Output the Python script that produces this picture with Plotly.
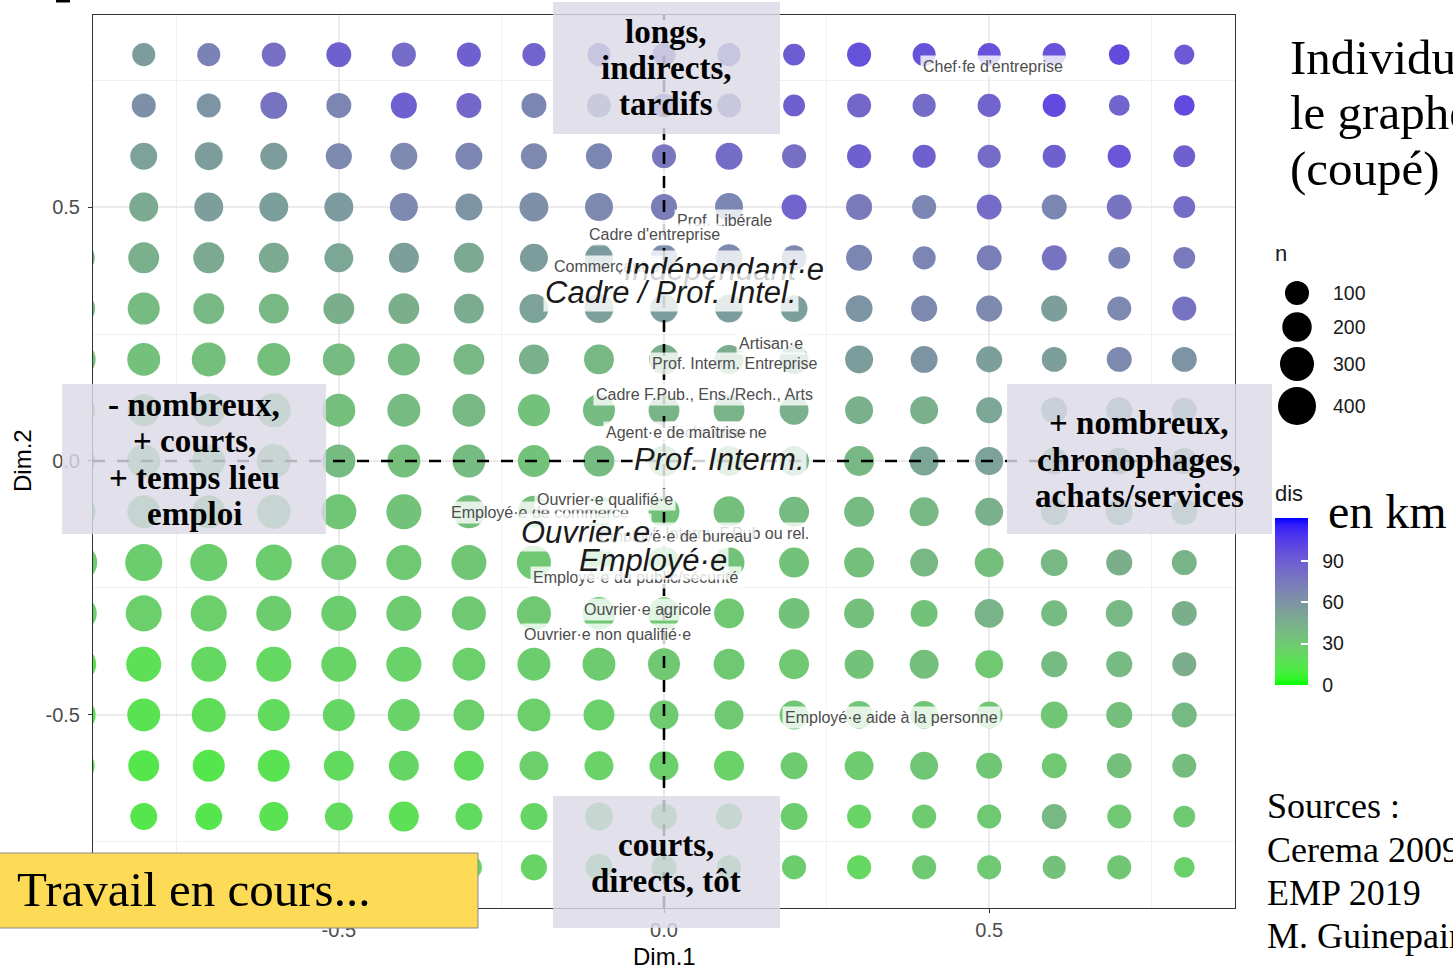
import math
import plotly.graph_objects as go

W, H = 1453, 969

# ---------------- data ----------------
x_vals = [-0.8, -0.7, -0.6, -0.5, -0.4, -0.3, -0.2, -0.1, 0.0, 0.1, 0.2, 0.3, 0.4, 0.5, 0.6, 0.7, 0.8]
y_vals = [0.8, 0.7, 0.6, 0.5, 0.4, 0.3, 0.2, 0.1, 0.0, -0.1, -0.2, -0.3, -0.4, -0.5, -0.6, -0.7, -0.8]

# dis (distance, km) per grid cell; rows follow y_vals, columns follow x_vals
dis = [
    [55, 70, 80, 88, 82, 88, 86, 82, 84, 82, 90, 96, 95, 95, 95, 98, 92],
    [62, 60, 78, 68, 88, 84, 68, 66, 76, 78, 88, 84, 82, 86, 99, 86, 99],
    [52, 55, 55, 66, 66, 68, 66, 68, 76, 82, 80, 88, 88, 82, 88, 93, 88],
    [48, 54, 54, 56, 66, 60, 62, 66, 72, 68, 86, 74, 68, 82, 68, 78, 82],
    [44, 48, 48, 50, 54, 48, 55, 56, 64, 66, 66, 68, 68, 72, 78, 70, 75],
    [38, 40, 40, 45, 45, 47, 52, 53, 55, 55, 54, 60, 66, 66, 54, 66, 78],
    [35, 36, 36, 38, 38, 40, 44, 40, 45, 46, 50, 55, 60, 54, 54, 66, 60],
    [34, 35, 36, 36, 38, 40, 35, 38, 42, 42, 44, 44, 44, 50, 50, 52, 50],
    [34, 34, 35, 38, 36, 38, 34, 38, 40, 40, 42, 40, 50, 52, 46, 48, 46],
    [33, 33, 33, 32, 34, 36, 36, 35, 34, 36, 38, 38, 40, 44, 42, 44, 42],
    [28, 28, 28, 30, 30, 32, 31, 32, 33, 34, 34, 36, 40, 36, 40, 45, 42],
    [27, 27, 28, 28, 29, 30, 31, 30, 31, 31, 34, 36, 34, 42, 38, 40, 45],
    [18, 22, 22, 24, 25, 27, 28, 29, 31, 30, 31, 34, 36, 31, 38, 38, 46],
    [16, 19, 21, 23, 25, 27, 27, 26, 29, 30, 32, 33, 32, 33, 32, 36, 39],
    [14, 14, 16, 21, 23, 21, 27, 25, 27, 25, 29, 29, 32, 32, 31, 36, 37],
    [14, 14, 16, 21, 18, 21, 23, 28, 28, 28, 28, 24, 29, 30, 40, 31, 30],
    [15, 15, 17, 20, 20, 22, 24, 28, 28, 28, 28, 22, 30, 30, 35, 32, 26],
]

# n (count) per grid cell
n = [
    [85, 85, 100, 115, 100, 100, 85, 85, 85, 85, 65, 100, 85, 85, 85, 50, 40],
    [100, 100, 150, 115, 135, 115, 115, 100, 100, 100, 65, 100, 85, 85, 85, 50, 50],
    [150, 170, 150, 135, 150, 150, 135, 135, 100, 150, 100, 100, 85, 85, 85, 85, 65],
    [190, 190, 190, 190, 170, 150, 190, 170, 135, 170, 115, 135, 100, 115, 115, 115, 65],
    [230, 230, 210, 190, 210, 210, 170, 170, 150, 150, 115, 135, 85, 115, 115, 65, 65],
    [255, 230, 210, 230, 230, 210, 190, 190, 170, 170, 150, 150, 135, 135, 135, 100, 100],
    [275, 300, 275, 255, 255, 230, 210, 210, 210, 190, 190, 170, 150, 135, 115, 115, 115],
    [255, 275, 300, 275, 275, 275, 255, 255, 230, 230, 190, 170, 170, 135, 135, 135, 115],
    [275, 275, 300, 275, 275, 275, 255, 230, 230, 210, 210, 210, 190, 170, 150, 150, 135],
    [275, 275, 300, 325, 325, 275, 255, 255, 230, 230, 210, 210, 190, 170, 150, 150, 135],
    [375, 375, 350, 325, 325, 325, 300, 275, 255, 230, 210, 210, 170, 190, 150, 135, 115],
    [350, 350, 325, 325, 325, 300, 300, 275, 255, 210, 230, 210, 150, 190, 135, 150, 115],
    [325, 325, 325, 325, 325, 275, 275, 275, 255, 230, 210, 190, 190, 170, 135, 135, 100],
    [275, 300, 255, 255, 255, 230, 275, 230, 190, 190, 190, 170, 170, 150, 150, 135, 115],
    [230, 255, 255, 210, 210, 210, 190, 190, 190, 210, 150, 190, 170, 135, 115, 115, 100],
    [150, 150, 190, 170, 210, 150, 150, 170, 135, 135, 150, 100, 100, 100, 115, 100, 65],
    [150, 150, 150, 150, 135, 135, 135, 150, 115, 100, 100, 100, 100, 100, 85, 100, 50],
]

# column at x = -0.9, only its edge is visible (the graph is cut)
x_edge = -0.9
y_edge = [0.4, 0.3, 0.2, 0.1, 0.0, -0.1, -0.2, -0.3, -0.4, -0.5, -0.6]
dis_edge = [44, 38, 35, 34, 34, 33, 28, 27, 18, 17, 14]
n_edge = [255, 275, 300, 275, 275, 300, 375, 350, 325, 300, 255]

dis_limits = [0, 121]
dis_ticks = [0, 30, 60, 90]
size_legend_n = [100, 200, 300, 400]

x_ticks = [-0.5, 0.0, 0.5]
y_ticks = [-0.5, 0.0, 0.5]
x_range = [-0.878, 0.878]
y_range = [-0.880, 0.878]

# category labels (text, x, y, kind) in drawing order
labels = [
    ("Chef·fe d'entreprise", 0.506, 0.777, "s"),
    ("Prof. Libérale", 0.093, 0.474, "s"),
    ("Cadre d'entreprise", -0.014, 0.445, "s"),
    ("Commerçant·e", -0.088, 0.382, "s"),
    ("Indépendant·e", 0.092, 0.376, "b"),
    ("Cadre / Prof. Intel.", 0.010, 0.331, "b"),
    ("Artisan·e", 0.165, 0.232, "s"),
    ("Prof. Interm. Entreprise", 0.108, 0.191, "s"),
    ("Cadre F.Pub., Ens./Rech., Arts", 0.063, 0.130, "s"),
    ("Technicien·ne", 0.082, 0.057, "s"),
    ("Agent·e de maîtrise", 0.018, 0.057, "s"),
    ("Prof. Interm.", 0.086, 0.002, "b"),
    ("Employé·e de commerce", -0.191, -0.102, "s"),
    ("Ouvrier·e qualifié·e", -0.090, -0.075, "s"),
    ("Prof. Interm. F.Pub ou rel.", 0.083, -0.142, "s"),
    ("Employé·e de bureau", 0.017, -0.149, "s"),
    ("Ouvrier·e", -0.120, -0.140, "b"),
    ("Employé·e du public/sécurité", -0.043, -0.230, "s"),
    ("Employé·e", -0.017, -0.195, "b"),
    ("Ouvrier·e agricole", -0.025, -0.293, "s"),
    ("Ouvrier·e non qualifié·e", -0.087, -0.341, "s"),
    ("Employé·e aide à la personne", 0.350, -0.504, "s"),
]

# ---------------- helpers ----------------
def size_of(v):
    # area-proportional size scale (like ggplot's scale_size)
    return math.sqrt(290 + 2.89 * v)


def _lin(c):
    c = c / 255.0
    return c / 12.92 if c <= 0.04045 else ((c + 0.055) / 1.055) ** 2.4


def _gam(c):
    v = 12.92 * c if c <= 0.0031308 else 1.055 * (c ** (1 / 2.4)) - 0.055
    return max(0, min(255, int(round(v * 255))))


def rgb_to_lab(rgb):
    r, g, b = [_lin(c) for c in rgb]
    X = (0.4124 * r + 0.3576 * g + 0.1805 * b) / 0.95047
    Y = (0.2126 * r + 0.7152 * g + 0.0722 * b) / 1.0
    Z = (0.0193 * r + 0.1192 * g + 0.9505 * b) / 1.08883
    d = 6 / 29

    def f(t):
        return t ** (1 / 3) if t > d ** 3 else t / (3 * d * d) + 4 / 29
    fx, fy, fz = f(X), f(Y), f(Z)
    return (116 * fy - 16, 500 * (fx - fy), 200 * (fy - fz))


def lab_to_hex(lab):
    L, a, b = lab
    d = 6 / 29
    fy = (L + 16) / 116
    fx = fy + a / 500
    fz = fy - b / 200

    def finv(t):
        return t ** 3 if t > d else 3 * d * d * (t - 4 / 29)
    X, Y, Z = 0.95047 * finv(fx), finv(fy), 1.08883 * finv(fz)
    r = 3.2406 * X - 1.5372 * Y - 0.4986 * Z
    g = -0.9689 * X + 1.8758 * Y + 0.0415 * Z
    bb = 0.0557 * X - 0.2040 * Y + 1.0570 * Z
    return "#%02x%02x%02x" % (_gam(r), _gam(g), _gam(bb))


low = rgb_to_lab((0, 255, 0))
high = rgb_to_lab((0, 0, 255))
colorscale = []
for k in range(25):
    t = k / 24
    lab = tuple(low[i] + (high[i] - low[i]) * t for i in range(3))
    colorscale.append([t, lab_to_hex(lab)])


def px(x):
    return x / W


def py(y):
    return 1 - y / H


# ---------------- figure ----------------
gx, gy, gc, gs = [], [], [], []
for i, yv in enumerate(y_vals):
    for j, xv in enumerate(x_vals):
        gx.append(xv)
        gy.append(yv)
        gc.append(dis[i][j])
        gs.append(size_of(n[i][j]))

fig = go.Figure()
fig.add_trace(go.Scatter(
    x=[x_edge] * len(y_edge), y=y_edge, mode="markers",
    marker=dict(color=dis_edge, coloraxis="coloraxis",
                size=[size_of(v) for v in n_edge], sizemode="diameter",
                line=dict(width=0), opacity=1),
    hoverinfo="skip", showlegend=False))
fig.add_trace(go.Scatter(
    x=gx, y=gy, mode="markers",
    marker=dict(color=gc, coloraxis="coloraxis", size=gs, sizemode="diameter",
                line=dict(width=0), opacity=1),
    hoverinfo="skip", showlegend=False))

# size legend (n) on an overlay axis spanning the whole figure in pixels
leg_y = [293, 327, 364, 406]
fig.add_trace(go.Scatter(
    x=[1297] * 4, y=leg_y, mode="markers", xaxis="x2", yaxis="y2",
    marker=dict(color="black", size=[size_of(v) for v in size_legend_n],
                sizemode="diameter", line=dict(width=0), opacity=1),
    hoverinfo="skip", showlegend=False))

sans = "Liberation Sans"
serif = "Liberation Serif"

annotations = []
for txt, xv, yv, kind in labels:
    if kind == "s":
        annotations.append(dict(
            x=xv, y=yv, xref="x", yref="y", text=txt, showarrow=False,
            font=dict(family=sans, size=16, color="#4d4d4d"),
            bgcolor="rgba(255,255,255,0.8)", borderpad=2))
    else:
        annotations.append(dict(
            x=xv, y=yv, xref="x", yref="y", text="<i>" + txt + "</i>", showarrow=False,
            font=dict(family=sans, size=31, color="#1a1a1a"),
            bgcolor="rgba(255,255,255,0.8)", borderpad=1))

# size legend labels
for v, yy in zip(size_legend_n, leg_y):
    annotations.append(dict(x=px(1331), y=py(yy), xref="paper", yref="paper",
                            text=str(v), showarrow=False, xanchor="left", yanchor="middle",
                            font=dict(family=sans, size=19.5, color="#1a1a1a")))
annotations.append(dict(x=px(1273), y=py(253), xref="paper", yref="paper", text="n",
                        showarrow=False, xanchor="left", yanchor="middle",
                        font=dict(family=sans, size=22, color="#1a1a1a")))
# colour legend title
annotations.append(dict(x=px(1273), y=py(494), xref="paper", yref="paper", text="dis",
                        showarrow=False, xanchor="left", yanchor="middle",
                        font=dict(family=sans, size=22, color="#1a1a1a")))

# axis titles
annotations.append(dict(x=px(664), y=py(956), xref="paper", yref="paper", text="Dim.1",
                        showarrow=False, xanchor="center", yanchor="middle",
                        font=dict(family=sans, size=24, color="#000000")))
annotations.append(dict(x=px(22), y=py(461), xref="paper", yref="paper", text="Dim.2",
                        showarrow=False, xanchor="center", yanchor="middle", textangle=-90,
                        font=dict(family=sans, size=24, color="#000000")))

shapes = []
# dashed reference lines
shapes.append(dict(type="line", xref="x", yref="y", x0=0, x1=0, y0=y_range[0], y1=y_range[1],
                   line=dict(color="black", width=2.6, dash="12px,12px"), layer="above"))
shapes.append(dict(type="line", xref="x", yref="y", x0=x_range[0], x1=x_range[1], y0=0, y1=0,
                   line=dict(color="black", width=2.6, dash="12px,12px"), layer="above"))

box_fill = "rgba(218,217,230,0.82)"
boxes = [
    ((553, 2, 780, 134), ["longs,", "indirects,", "tardifs"], 666, [32, 68, 104]),
    ((553, 796, 780, 928), ["courts,", "directs, tôt"], 666, [845, 881]),
    ((62, 384, 326, 534), ["- nombreux,", "+ courts,", "+ temps lieu", "emploi"], 194, [405, 441, 478, 514]),
    ((1007, 384, 1272, 534), ["+ nombreux,", "chronophages,", "achats/services"], 1139, [423, 460, 496]),
]
for (x0, y0, x1, y1), lines, cx, ys in boxes:
    shapes.append(dict(type="rect", xref="paper", yref="paper", x0=px(x0), x1=px(x1),
                       y0=py(y1), y1=py(y0), fillcolor=box_fill, line=dict(width=0), layer="above"))
    for t, yy in zip(lines, ys):
        annotations.append(dict(x=px(cx), y=py(yy), xref="paper", yref="paper",
                                text="<b>" + t + "</b>", showarrow=False,
                                xanchor="center", yanchor="middle",
                                font=dict(family=serif, size=33, color="#000000")))

# "Travail en cours..." banner
shapes.append(dict(type="rect", xref="paper", yref="paper", x0=px(-2), x1=px(478),
                   y0=py(928), y1=py(853), fillcolor="#fddb57",
                   line=dict(color="#8a8a8a", width=1), layer="above"))
annotations.append(dict(x=px(15), y=py(889), xref="paper", yref="paper",
                        text="Travail en cours...", showarrow=False, xanchor="left",
                        yanchor="middle", font=dict(family=serif, size=49, color="#000000")))

# small cut glyph at top-left
shapes.append(dict(type="rect", xref="paper", yref="paper", x0=px(56), x1=px(70),
                   y0=py(2.5), y1=py(0), fillcolor="black", line=dict(width=0), layer="above"))

# right-hand texts
for t, yy in zip(["Individus dans", "le graphe", "(coupé) :"], [57, 113, 169]):
    annotations.append(dict(x=px(1288), y=py(yy), xref="paper", yref="paper", text=t,
                            showarrow=False, xanchor="left", yanchor="middle",
                            font=dict(family=serif, size=49, color="#000000")))
annotations.append(dict(x=px(1326), y=py(512), xref="paper", yref="paper", text="en km",
                        showarrow=False, xanchor="left", yanchor="middle",
                        font=dict(family=serif, size=48, color="#000000")))
for t, yy in zip(["Sources :", "Cerema 2009", "EMP 2019", "M. Guinepain"], [806, 850, 893, 936]):
    annotations.append(dict(x=px(1265), y=py(yy), xref="paper", yref="paper", text=t,
                            showarrow=False, xanchor="left", yanchor="middle",
                            font=dict(family=serif, size=36, color="#000000")))

axis_common = dict(
    showline=True, mirror=True, linecolor="#333333", linewidth=1,
    ticks="outside", ticklen=4, tickwidth=1, tickcolor="#333333",
    showgrid=True, gridcolor="#ebebeb", gridwidth=1.6,
    zeroline=False,
    tickfont=dict(family=sans, size=20, color="#4d4d4d"),
)

fig.update_layout(
    width=W, height=H, autosize=False,
    margin=dict(l=0, r=0, t=0, b=0, pad=0, autoexpand=False),
    paper_bgcolor="white", plot_bgcolor="rgba(0,0,0,0)",
    showlegend=False,
    xaxis=dict(domain=[px(93), px(1235)], range=x_range, tickvals=x_ticks,
               ticktext=["-0.5", "0.0", "0.5"], anchor="y",
               minor=dict(tickvals=[-0.75, -0.25, 0.25, 0.75], showgrid=True,
                          gridcolor="#f0f0f0", gridwidth=1, ticks=""),
               **axis_common),
    yaxis=dict(domain=[py(908), py(15)], range=y_range, tickvals=y_ticks,
               ticktext=["-0.5", "0.0", "0.5"], anchor="x", ticklabelstandoff=4,
               minor=dict(tickvals=[-0.75, -0.25, 0.25, 0.75], showgrid=True,
                          gridcolor="#f0f0f0", gridwidth=1, ticks=""),
               **axis_common),
    xaxis2=dict(domain=[0, 1], range=[0, W], visible=False, anchor="y2", fixedrange=True),
    yaxis2=dict(domain=[0, 1], range=[H, 0], visible=False, anchor="x2", fixedrange=True),
    coloraxis=dict(
        colorscale=colorscale, cmin=dis_limits[0], cmax=dis_limits[1],
        colorbar=dict(
            x=px(1275), xanchor="left", xref="paper",
            y=py(685), yanchor="bottom", yref="paper",
            len=167, lenmode="pixels", thickness=33, thicknessmode="pixels",
            xpad=0, ypad=0, outlinewidth=0,
            tickvals=dis_ticks, ticktext=["\u2002" + str(v) for v in dis_ticks],
            ticks="inside", ticklen=7, tickcolor="white", tickwidth=1.5,
            tickfont=dict(family=sans, size=19.5, color="#1a1a1a"),
        ),
    ),
    shapes=shapes,
    annotations=annotations,
)

fig.write_html("out.html", config={"displayModeBar": False},
               post_script="document.body.style.margin='0px';document.body.style.overflow='hidden';")
